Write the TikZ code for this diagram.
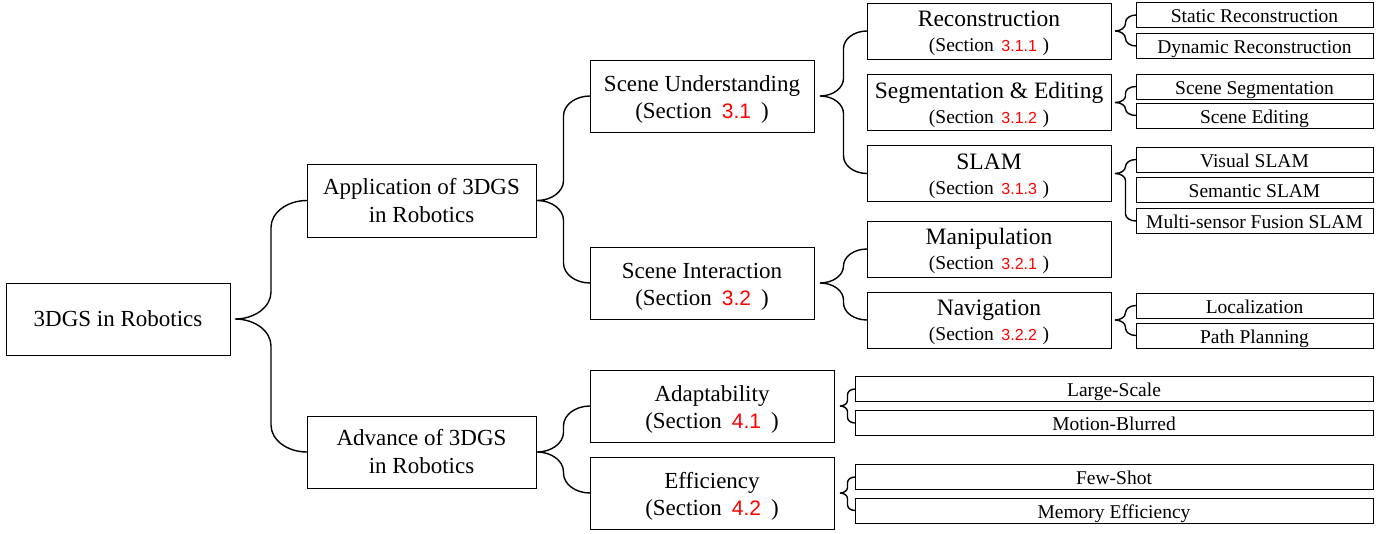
\documentclass[tikz,border=0pt]{standalone}
\usepackage{fontspec}
\setmainfont{Liberation Serif}
\newfontfamily\arialf{Liberation Sans}
\usetikzlibrary{calc}
\newcommand\bignum[1]{\hspace{10pt}{\fontsize{21}{24}\selectfont\arialf\color{red}#1}\hspace{10pt}}
\newcommand\smallnum[1]{\hspace{7.5pt}{\fontsize{16}{19}\selectfont\arialf\color{red}#1}\hspace{5.5pt}}
\newcommand\tstrut[1]{\rule{0pt}{#1}}
\newcommand\brc[4]{%
\draw[bracestyle] let \p0=(#1.east), \p2=(#2.west), \p3=(#3.west),
  \n1={\x0+#4pt}, \n2={(\n1+\x2)/2}, \n6={\n2-\n1},
  \n3={min(0.75*\n6,(\y2-\y0)/2,(\y0-\y3)/2)}, \n4={0.552*\n6}, \n5={0.552*\n3} in
  (\n1,\y0) .. controls (\n1+\n4,\y0) and (\n2,\y0+\n3-\n5) .. (\n2,\y0+\n3) -- (\n2,\y2-\n3)
     .. controls (\n2,\y2-\n3+\n5) and (\x2-\n4,\y2) .. (\x2,\y2)
  (\n1,\y0) .. controls (\n1+\n4,\y0) and (\n2,\y0-\n3+\n5) .. (\n2,\y0-\n3) -- (\n2,\y3+\n3)
     .. controls (\n2,\y3+\n3-\n5) and (\x3-\n4,\y3) .. (\x3,\y3);
}
\begin{document}
\begin{tikzpicture}[x=1pt,y=-1pt,
  box/.style={draw=black, line width=1pt, align=center, inner sep=0pt, outer sep=0pt},
  bigbox/.style={box, font=\fontsize{23}{28}\selectfont},
  secbox/.style={box, font=\fontsize{23}{27}\selectfont},
  midbox/.style={box, minimum width=244pt, minimum height=56pt, font=\fontsize{23.5}{25}\selectfont},
  leaf/.style={box, minimum width=237pt, minimum height=25pt, text height=15pt, text depth=0pt, font=\fontsize{19.5}{22}\selectfont},
  wleaf/.style={leaf, minimum width=518pt},
  bracestyle/.style={line width=1.4pt, black}]
\useasboundingbox (0,0) rectangle (1392,533);
% level 0
\node[bigbox, minimum width=224pt, minimum height=72pt] (root) at (118,319) {3DGS in Robotics};
% level 1
\node[bigbox, minimum width=229pt, minimum height=73pt] (app) at (421.5,200.5) {Application of 3DGS\\in Robotics};
\node[bigbox, minimum width=229pt, minimum height=72pt] (adv) at (421.5,452) {Advance of 3DGS\\in Robotics};
% level 2
\node[secbox, minimum width=224pt, minimum height=72pt] (su) at (702,96) {\tstrut{22.5pt}Scene Understanding\\(Section\bignum{3.1})};
\node[secbox, minimum width=224pt, minimum height=72pt] (si) at (702,283) {\tstrut{22.5pt}Scene Interaction\\(Section\bignum{3.2})};
\node[secbox, minimum width=244pt, minimum height=72pt] (ad) at (712,406) {\tstrut{22.5pt}Adaptability\\(Section\bignum{4.1})};
\node[secbox, minimum width=244pt, minimum height=72pt] (ef) at (712,493) {\tstrut{22.5pt}Efficiency\\(Section\bignum{4.2})};
% level 3
\node[midbox] (rec) at (989,31) {\tstrut{21pt}Reconstruction\\{\fontsize{19.5}{22}\selectfont(Section\smallnum{3.1.1})}};
\node[midbox] (seg) at (989,102.5) {\tstrut{21pt}Segmentation \& Editing\\{\fontsize{19.5}{22}\selectfont(Section\smallnum{3.1.2})}};
\node[midbox] (slam) at (989,173.5) {\tstrut{21pt}SLAM\\{\fontsize{19.5}{22}\selectfont(Section\smallnum{3.1.3})}};
\node[midbox] (man) at (989,249) {\tstrut{21pt}Manipulation\\{\fontsize{19.5}{22}\selectfont(Section\smallnum{3.2.1})}};
\node[midbox] (nav) at (989,320) {\tstrut{21pt}Navigation\\{\fontsize{19.5}{22}\selectfont(Section\smallnum{3.2.2})}};
% leaves
\node[leaf] (static) at (1254.5,15) {Static Reconstruction};
\node[leaf] (dyn) at (1254.5,46) {Dynamic Reconstruction};
\node[leaf] (ssg) at (1254.5,86.5) {Scene Segmentation};
\node[leaf] (sed) at (1254.5,115.5) {Scene Editing};
\node[leaf] (vis) at (1254.5,159.5) {Visual SLAM};
\node[leaf] (sem) at (1254.5,189.5) {Semantic SLAM};
\node[leaf] (mul) at (1254.5,221) {Multi-sensor Fusion SLAM};
\node[leaf] (loc) at (1254.5,305.5) {Localization};
\node[leaf] (path) at (1254.5,335.5) {Path Planning};
\node[wleaf] (large) at (1114,389) {Large-Scale};
\node[wleaf] (motion) at (1114,423) {Motion-Blurred};
\node[wleaf] (few) at (1114,477) {Few-Shot};
\node[wleaf] (mem) at (1114,510.5) {Memory Efficiency};
% braces
\brc{root}{app}{adv}{5}
\brc{app}{su}{si}{1}
\brc{adv}{ad}{ef}{1}
\brc{su}{rec}{slam}{6}
\brc{si}{man}{nav}{6}
\brc{ad}{large}{motion}{6}
\brc{ef}{few}{mem}{6}
\brc{rec}{static}{dyn}{4}
\brc{seg}{ssg}{sed}{4}
\brc{slam}{vis}{mul}{4}
\brc{nav}{loc}{path}{4}
\end{tikzpicture}
\end{document}
